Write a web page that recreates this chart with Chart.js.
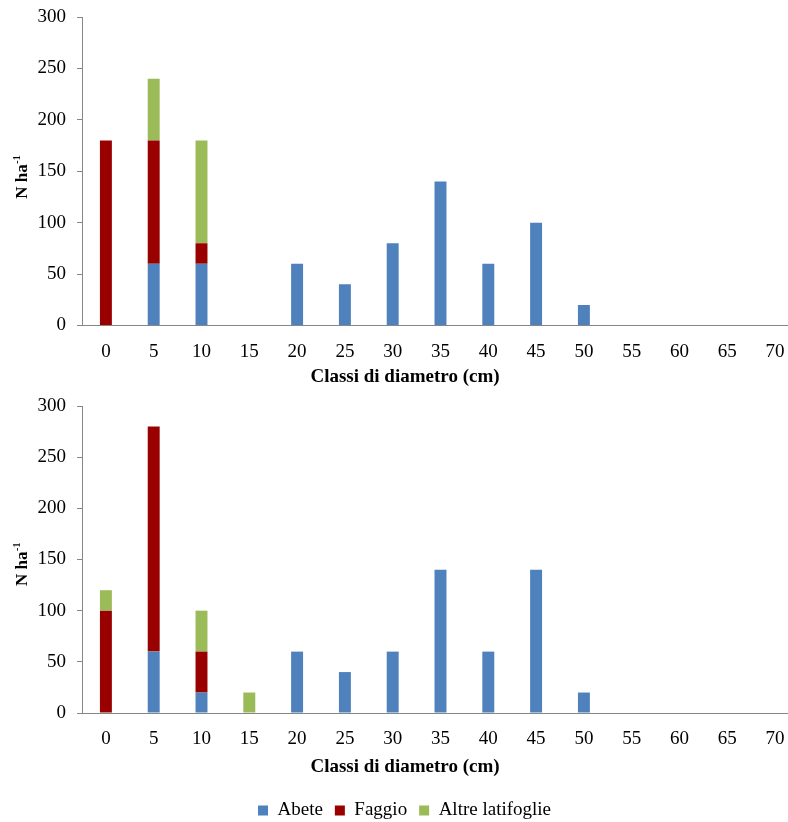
<!DOCTYPE html>
<html>
<head>
<meta charset="utf-8">
<script src="https://cdn.jsdelivr.net/npm/chart.js@4.4.0/dist/chart.umd.min.js"></script>
<style>
  html, body { margin: 0; padding: 0; background: #fff; overflow: hidden; width: 788px; height: 822px; }
  .panel { position: absolute; left: 0; }
  #p1 { top: 0; }
  #p2 { top: 390px; }
</style>
</head>
<body>
<div class="panel" id="p1"><canvas id="c1" width="820" height="390"></canvas></div>
<div class="panel" id="p2"><canvas id="c2" width="820" height="440"></canvas></div>
<script>
// Diameter classes (cm)
const classi = ['0', '5', '10', '15', '20', '25', '30', '35', '40', '45', '50', '55', '60', '65', '70'];
const specie = ['Abete', 'Faggio', 'Altre latifoglie'];

// Upper panel: stems per hectare by diameter class
const abeteA  = [0, 60, 60, 0, 60, 40, 80, 140, 60, 100, 20, 0, 0, 0, 0];
const faggioA = [180, 120, 20, 0, 0, 0, 0, 0, 0, 0, 0, 0, 0, 0, 0];
const altreA  = [0, 60, 100, 0, 0, 0, 0, 0, 0, 0, 0, 0, 0, 0, 0];

// Lower panel
const abeteB  = [0, 60, 20, 0, 60, 40, 60, 140, 60, 140, 20, 0, 0, 0, 0];
const faggioB = [100, 220, 40, 0, 0, 0, 0, 0, 0, 0, 0, 0, 0, 0, 0];
const altreB  = [20, 0, 40, 20, 0, 0, 0, 0, 0, 0, 0, 0, 0, 0, 0];

const yMax = 300;
const yStep = 50;
const xTitle = 'Classi di diametro (cm)';
const yTitle = 'N ha';
const yTitleSup = '-1';

const colori = ['#4F81BD', '#990000', '#9BBB59'];
const FONT = '"Liberation Serif", "Times New Roman", serif';
const AXIS = '#868686';

// Draws the axis titles (x title below the tick labels, y title rotated with superscript)
const axisTitles = {
  id: 'axisTitles',
  afterDraw(chart, args, opts) {
    const ctx = chart.ctx;
    const a = chart.chartArea;
    ctx.save();
    ctx.fillStyle = '#000';
    ctx.font = 'bold 19px ' + FONT;
    ctx.textAlign = 'center';
    ctx.textBaseline = 'middle';
    ctx.fillText(opts.xText, opts.xX, opts.xY);

    ctx.translate(opts.yX, (a.top + a.bottom) / 2 + opts.yShift);
    ctx.rotate(-Math.PI / 2);
    ctx.textAlign = 'left';
    ctx.textBaseline = 'alphabetic';
    ctx.font = 'bold 17px ' + FONT;
    const w1 = ctx.measureText(opts.yText).width;
    ctx.font = 'bold 10px ' + FONT;
    const w2 = ctx.measureText(opts.ySup).width;
    const x0 = -(w1 + w2) / 2;
    ctx.font = 'bold 17px ' + FONT;
    ctx.fillText(opts.yText, x0, 0);
    ctx.font = 'bold 10px ' + FONT;
    ctx.fillText(opts.ySup, x0 + w1 + 0.5, -7);
    ctx.restore();
  }
};

function datasets(a, f, l) {
  return [a, f, l].map((d, i) => ({
    label: specie[i],
    data: d,
    backgroundColor: colori[i],
    borderWidth: 0,
    barPercentage: 0.25,
    categoryPercentage: 1.0
  }));
}

function options(cfg) {
  return {
    responsive: false,
    animation: false,
    layout: { padding: { top: cfg.padTop, right: 21, bottom: 0, left: 10 } },
    plugins: {
      tooltip: { enabled: false },
      title: { display: false },
      legend: {
        display: cfg.legend,
        position: 'bottom',
        labels: {
          color: '#000',
          font: { family: FONT, size: 19 },
          boxWidth: 10,
          boxHeight: 10,
          padding: 12
        }
      },
      axisTitles: { xText: xTitle, xX: 405, xY: 377, yText: yTitle, ySup: yTitleSup, yX: 27, yShift: cfg.yShift }
    },
    scales: {
      x: {
        stacked: true,
        grid: { display: false },
        border: { display: true, color: AXIS, width: 1 },
        ticks: { color: '#000', font: { family: FONT, size: 19 }, padding: 7, maxRotation: 0, autoSkip: false },
        afterFit(s) { s.height = cfg.xH; s.paddingLeft = 0; s.paddingRight = 0; }
      },
      y: {
        stacked: true,
        min: 0,
        max: yMax,
        grid: { display: true, drawOnChartArea: false, drawTicks: true, tickLength: 5, color: AXIS },
        border: { display: true, color: AXIS, width: 1 },
        ticks: { stepSize: yStep, color: '#000', font: { family: FONT, size: 19 }, padding: 11 },
        afterFit(s) { s.width = 72; s.paddingTop = 0; s.paddingBottom = 0; }
      }
    }
  };
}

new Chart(document.getElementById('c1'), {
  type: 'bar',
  data: { labels: classi, datasets: datasets(abeteA, faggioA, altreA) },
  options: options({ padTop: 17, xH: 64.5, legend: false, yShift: 6 }),
  plugins: [axisTitles]
});

new Chart(document.getElementById('c2'), {
  type: 'bar',
  data: { labels: classi, datasets: datasets(abeteB, faggioB, altreB) },
  options: options({ padTop: 16, xH: 76, legend: true, yShift: 5 }),
  plugins: [axisTitles]
});
</script>
</body>
</html>
